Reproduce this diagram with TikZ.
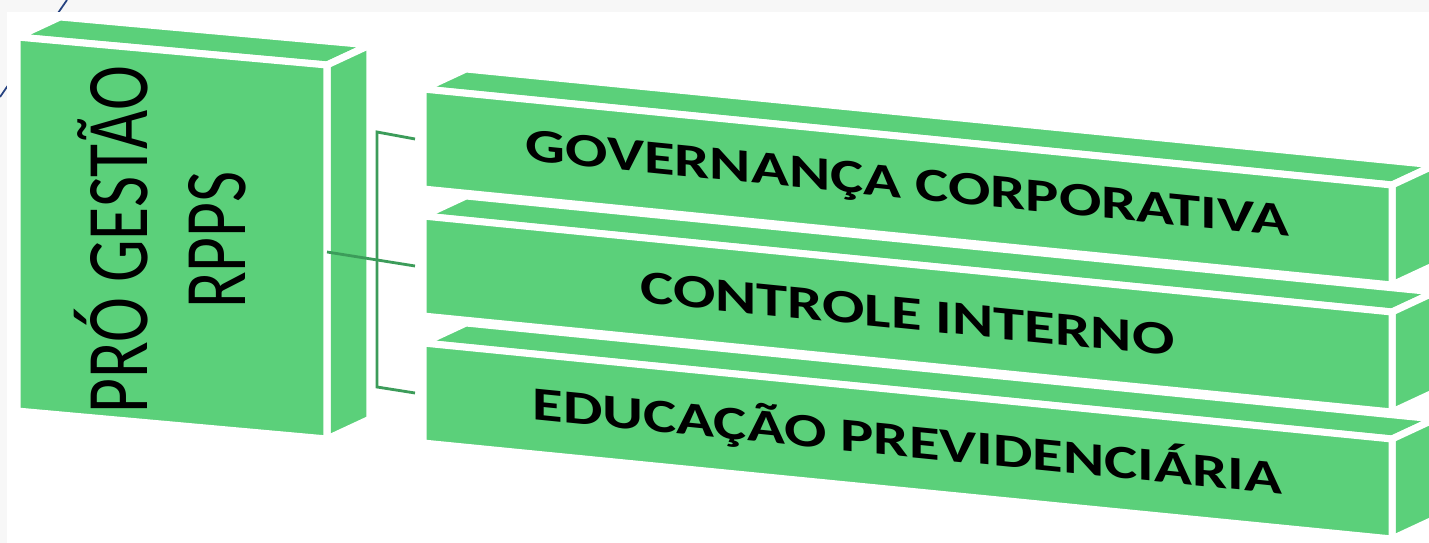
\documentclass[tikz,border=0pt]{standalone}
\usepackage{fontspec}
\setmainfont{Carlito}
\definecolor{BoxGreen}{RGB}{91,208,122}
\definecolor{LinkGreen}{RGB}{60,156,90}
\definecolor{SlideBlue}{RGB}{38,66,128}
\usetikzlibrary{calc}

\newcommand{\cuboid}[4]{%
  \coordinate (#1-tl) at #2;
  \coordinate (#1-tr) at #3;
  \coordinate (#1-bl) at ($(#1-tl)+(0,#4)$);
  \coordinate (#1-br) at ($(#1-tr)+(0,#4)$);
  \filldraw[face] (#1-tl) -- (#1-tr) -- ($(#1-tr)+(43,-20)$) -- ($(#1-tl)+(43,-20)$) -- cycle;
  \filldraw[face] (#1-tr) -- (#1-br) -- ($(#1-br)+(43,-20)$) -- ($(#1-tr)+(43,-20)$) -- cycle;
  \filldraw[face] (#1-tl) -- (#1-tr) -- (#1-br) -- (#1-bl) -- cycle;
  \coordinate (#1-c) at ($(#1-tl)!0.5!(#1-br)$);
  \coordinate (#1-w) at ($(#1-tl)!0.5!(#1-bl)$);
  \coordinate (#1-e) at ($(#1-tr)!0.5!(#1-br)$);
}

\begin{document}
\begin{tikzpicture}[x=0.02cm, y=-0.02cm,
  face/.style={fill=BoxGreen, draw=white, line width=4pt, line join=round},
  link/.style={draw=LinkGreen, line width=1.6pt},
  title/.style={font=\bfseries\fontsize{27}{30}\selectfont, yslant=-0.1, xscale=1.32},
  every node/.style={text=black, inner sep=0pt}]
\useasboundingbox (0,0) rectangle (1429,543);
\clip (0,0) rectangle (1429,543);
\fill[black!3] (0,0) rectangle (1429,543);
\draw[SlideBlue, line width=1pt] (0,97) -- (67,0);
\fill[white] (7,12) rectangle (1429,543);

\cuboid{pro}{(17,37)}{(327,65)}{374}
\cuboid{g3}{(423,343)}{(1392,439)}{100}
\cuboid{g2}{(423,216)}{(1392,312)}{100}
\cuboid{g1}{(423,89)}{(1392,185)}{100}

\node[rotate=90, xscale=0.77, align=center, font=\fontsize{50}{56}\selectfont] (pro-txt) at (160,240) {PRÓ GESTÃO\\RPPS};
\node[title] (g1-txt) at (g1-c) {GOVERNANÇA CORPORATIVA};
\node[title] (g2-txt) at (g2-c) {CONTROLE INTERNO};
\node[title] (g3-txt) at (g3-c) {EDUCAÇÃO PREVIDENCIÁRIA};

\coordinate (j1) at (377,132);
\coordinate (j3) at (377,387);
\draw[link] ([xshift=-0.16cm]g1-w) -- (j1) -- (j3) -- ([xshift=-0.16cm]g3-w);
\draw[link] (pro-e) -- ([xshift=-0.16cm]g2-w);
\end{tikzpicture}
\end{document}
